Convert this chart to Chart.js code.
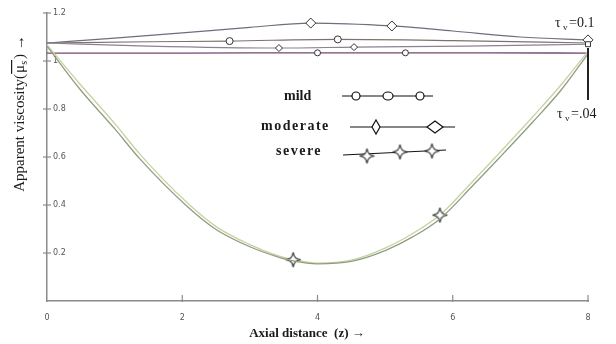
<!DOCTYPE html>
<html>
<head>
<meta charset="utf-8">
<script src="https://cdn.jsdelivr.net/npm/chart.js@4"></script>
<style>
  html, body { margin: 0; background: #fff; }
  #wrap { width: 616px; height: 344px; position: relative; }
</style>
</head>
<body>
<div id="wrap"><canvas id="chart"></canvas></div>
<script>
// axis ticks
const xTicks = [0, 2, 4, 6, 8];
const yTicks = [0.2, 0.4, 0.6, 0.8, 1, 1.2];

// moderate, tau_v = 0.1 (upper arc)
const modTopZ = [0, 1, 2, 3, 3.9, 5.1, 6, 7, 8];
const modTopV = [1.075, 1.095, 1.117, 1.14, 1.158, 1.146, 1.125, 1.1, 1.088];
const modTopMarks = [3.9, 5.1, 8];

// mild, tau_v = 0.1
const mildTopZ = [0, 1.5, 2.7, 4.3, 6, 8];
const mildTopV = [1.075, 1.08, 1.083, 1.09, 1.085, 1.075];
const mildTopMarks = [2.7, 4.3];

// moderate, tau_v = .04
const modLowZ = [0, 1.5, 3.43, 4.54, 6.2, 8];
const modLowV = [1.075, 1.062, 1.054, 1.058, 1.062, 1.07];
const modLowMarks = [3.43, 4.54, 8];

// mild, tau_v = .04
const mildLowZ = [0, 2, 4, 5.3, 6.5, 8];
const mildLowV = [1.033, 1.033, 1.034, 1.034, 1.034, 1.033];
const mildLowMarks = [4, 5.3];

// severe (two close curves)
const sevZ = [0, 0.5, 1, 1.38, 2.07, 2.5, 3, 3.4, 3.64, 4, 4.5, 5, 5.4, 5.81, 6.3, 6.7, 7.19, 7.6, 8];
const sevV1 = [1.067, 0.9, 0.74, 0.61, 0.41, 0.31, 0.235, 0.19, 0.172, 0.158, 0.17, 0.22, 0.28, 0.358, 0.5, 0.62, 0.77, 0.9, 1.04];
const sevV2 = [1.062, 0.878, 0.718, 0.59, 0.395, 0.298, 0.226, 0.185, 0.167, 0.155, 0.165, 0.21, 0.266, 0.342, 0.482, 0.6, 0.748, 0.878, 1.03];
const sevMarks = [3.64, 5.81];

// 4-point star marker
function makeStar(size) {
    const c = document.createElement('canvas');
    c.width = size; c.height = size;
    const g = c.getContext('2d');
    const m = size / 2, r = size / 2 - 1, k = size * 0.12;
    g.beginPath();
    g.moveTo(m, m - r);
    g.quadraticCurveTo(m + k * 0.3, m - k * 0.3, m + r, m);
    g.quadraticCurveTo(m + k * 0.3, m + k * 0.3, m, m + r);
    g.quadraticCurveTo(m - k * 0.3, m + k * 0.3, m - r, m);
    g.quadraticCurveTo(m - k * 0.3, m - k * 0.3, m, m - r);
    g.closePath();
    g.fillStyle = '#fff';
    g.fill();
    g.strokeStyle = '#333';
    g.lineWidth = 1.2;
    g.stroke();
    return c;
}
const starImg = makeStar(17);

function series(zs, vs, color, width, style, marks, radius) {
    return {
        data: zs.map((z, i) => ({ x: z, y: vs[i] })),
        borderColor: color,
        borderWidth: width,
        backgroundColor: '#fff',
        pointBorderColor: '#333',
        pointBorderWidth: 1,
        pointBackgroundColor: '#fff',
        pointStyle: style,
        pointRadius: ctx => marks.includes(zs[ctx.dataIndex]) ? radius : 0,
        pointHoverRadius: 0,
        cubicInterpolationMode: 'monotone',
        fill: false,
        clip: false
    };
}

const datasets = [
    series(sevZ, sevV2, '#8e9e80', 1.3, 'circle', [], 0),
    series(sevZ, sevV1, '#c9d0a0', 1.3, starImg, sevMarks, 8),
    series(mildLowZ, mildLowV, '#74476f', 1.3, 'circle', mildLowMarks, 3),
    series(modLowZ, modLowV, '#8c8290', 1.1, ctx => modLowZ[ctx.dataIndex] === 8 ? 'rect' : 'rectRot', modLowMarks, 3.5),
    series(mildTopZ, mildTopV, '#7d7272', 1.1, 'circle', mildTopMarks, 3.5),
    series(modTopZ, modTopV, '#6e6e7c', 1.2, 'rectRot', modTopMarks, 5)
];

const axisColor = '#8a8a8a';
const serif = "'Liberation Serif', 'DejaVu Serif', serif";

// axis tick marks, titles, legend and annotations
const decorations = {
    id: 'decorations',
    afterDraw(chart) {
        const { ctx } = chart;
        const xs = chart.scales.x, ys = chart.scales.y;
        const x0 = xs.getPixelForValue(0), y0 = ys.getPixelForValue(0);
        ctx.save();
        ctx.strokeStyle = axisColor;
        ctx.lineWidth = 1.2;
        yTicks.forEach(v => {
            const py = ys.getPixelForValue(v);
            ctx.beginPath(); ctx.moveTo(x0 - 4, py); ctx.lineTo(x0 + 4, py); ctx.stroke();
        });
        xTicks.slice(1).forEach(v => {
            const px = xs.getPixelForValue(v);
            ctx.beginPath(); ctx.moveTo(px, y0 - 6); ctx.lineTo(px, y0 + 1); ctx.stroke();
        });

        ctx.fillStyle = '#1a1a1a';
        // x title
        ctx.font = 'bold 13px ' + serif;
        ctx.textAlign = 'center';
        ctx.textBaseline = 'alphabetic';
        ctx.fillText('Axial distance  (z) \u2192', 307, 337);

        // y title (rotated)
        ctx.save();
        ctx.translate(24, 113);
        ctx.rotate(-Math.PI / 2);
        ctx.font = '15px ' + serif;
        const parts = ['Apparent viscosity', '(', '\u03bc', 's', ')', ' \u2192'];
        const w0 = ctx.measureText(parts[0]).width;
        const w1 = ctx.measureText('(').width;
        const w2 = ctx.measureText('\u03bc').width;
        ctx.font = '10px ' + serif;
        const w3 = ctx.measureText('s').width;
        ctx.font = '15px ' + serif;
        const w4 = ctx.measureText(')').width;
        const w5 = ctx.measureText(parts[5]).width;
        const total = w0 + w1 + w2 + w3 + w4 + w5 + 4;
        let px = -total / 2;
        ctx.textAlign = 'left';
        ctx.fillText(parts[0], px, 0); px += w0;
        ctx.fillText('(', px, 0); px += w1 + 1;
        ctx.fillText('\u03bc', px, 0);
        ctx.fillRect(px - 1, -13, w2 + w3 + 2, 1.2);
        px += w2;
        ctx.font = '10px ' + serif;
        ctx.fillText('s', px, 3); px += w3 + 2;
        ctx.font = '15px ' + serif;
        ctx.fillText(')', px, 0); px += w4;
        ctx.fillText(parts[5], px, 0);
        ctx.restore();

        // legend
        ctx.font = 'bold 14px ' + serif;
        ctx.textAlign = 'left';
        ctx.textBaseline = 'middle';
        ctx.fillText('mild', 284, 96);
        ctx.save();
        ctx.font = 'bold 14px ' + serif;
        ctx.letterSpacing = '1.5px';
        ctx.fillText('moderate', 261, 126);
        ctx.fillText('severe', 276, 151);
        ctx.restore();

        ctx.strokeStyle = '#111';
        ctx.lineWidth = 1.2;
        const seg = (a, b, c, d) => { ctx.beginPath(); ctx.moveTo(a, b); ctx.lineTo(c, d); ctx.stroke(); };
        seg(342, 96, 433, 96);
        seg(350, 127, 455, 127);
        seg(343, 155, 446, 150);
        ctx.fillStyle = '#fff';
        [356, 388, 420].forEach((cx, i) => {
            ctx.beginPath();
            ctx.ellipse(cx, 96, i === 1 ? 5 : 4, 4, 0, 0, Math.PI * 2);
            ctx.fill(); ctx.stroke();
        });
        [[376, 4, 7], [435, 8, 6]].forEach(([cx, rx, ry]) => {
            ctx.beginPath();
            ctx.moveTo(cx, 127 - ry); ctx.lineTo(cx + rx, 127); ctx.lineTo(cx, 127 + ry); ctx.lineTo(cx - rx, 127);
            ctx.closePath(); ctx.fill(); ctx.stroke();
        });
        [[367, 156], [400, 152], [432, 151]].forEach(([cx, cy]) => {
            ctx.drawImage(starImg, cx - 8.5, cy - 8.5);
        });

        // tau annotations
        ctx.fillStyle = '#1a1a1a';
        ctx.font = '14px ' + serif;
        ctx.textBaseline = 'alphabetic';
        ctx.fillText('\u03c4', 555, 27);
        ctx.fillText('=0.1', 569, 27);
        ctx.fillText('\u03c4', 557, 118);
        ctx.fillText('=.04', 571, 118);
        ctx.font = '9px ' + serif;
        ctx.fillText('v', 563, 30);
        ctx.fillText('v', 565, 121);

        ctx.strokeStyle = '#222';
        ctx.lineWidth = 2;
        seg(588, 100, 588, 48);
        ctx.restore();
    }
};

new Chart(document.getElementById('chart'), {
    type: 'line',
    data: { datasets: datasets },
    options: {
        responsive: true,
        maintainAspectRatio: false,
        animation: false,
        layout: { padding: { left: 41, right: 28, top: 13, bottom: 0 } },
        plugins: {
            legend: { display: false },
            tooltip: { enabled: false }
        },
        scales: {
            x: {
                type: 'linear',
                min: 0,
                max: 8,
                afterFit: s => { s.height = 43; },
                afterBuildTicks: s => { s.ticks = xTicks.map(v => ({ value: v })); },
                grid: { display: false },
                border: { display: true, color: axisColor, width: 1.5 },
                ticks: {
                    padding: 4,
                    color: '#555',
                    font: { size: 8, family: "'DejaVu Sans', sans-serif" }
                }
            },
            y: {
                min: 0,
                max: 1.2,
                afterFit: s => { s.width = 6; },
                afterBuildTicks: s => { s.ticks = yTicks.map(v => ({ value: v })); },
                grid: { display: false },
                border: { display: true, color: axisColor, width: 1.5 },
                ticks: {
                    mirror: true,
                    padding: 6,
                    color: '#555',
                    font: { size: 8, family: "'DejaVu Sans', sans-serif" },
                    callback: v => String(+v.toFixed(1))
                }
            }
        }
    },
    plugins: [decorations]
});
</script>
</body>
</html>
